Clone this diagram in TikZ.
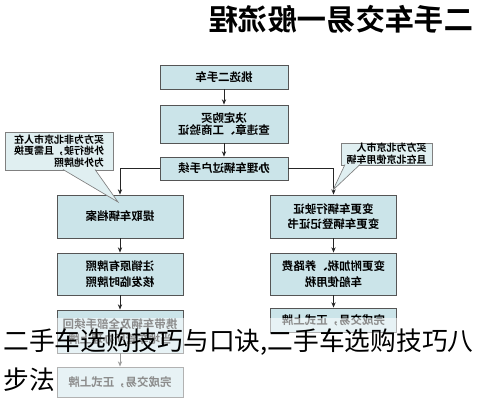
\documentclass[tikz,border=0pt]{standalone}
\usepackage{fontspec}
\newfontfamily\cjk{Noto Sans CJK SC}[BoldFont={Noto Sans CJK SC Bold}]
\usetikzlibrary{arrows.meta}
\definecolor{boxblue}{RGB}{203,228,233}
\definecolor{noteblue}{RGB}{224,239,241}
\definecolor{edgegray}{RGB}{85,85,85}

\begin{document}
\begin{tikzpicture}[x=0.75pt,y=-0.75pt,
    box/.style={draw=edgegray,fill=boxblue,line width=0.6pt,inner sep=0pt,
      align=center,font=\cjk\bfseries\fontsize{8.6}{11.5}\selectfont},
    note/.style={draw=gray,fill=noteblue,line width=0.5pt,inner sep=0pt,
      align=left,font=\cjk\bfseries\fontsize{7.5}{8.8}\selectfont},
    link/.style={draw=black!85,line width=0.6pt,-{Stealth[length=4pt,width=3.2pt]}}]
  \useasboundingbox (0,0) rectangle (478,400);
  % the whole chart is printed mirrored
  \begin{scope}[shift={(478,0)},xscale=-1,every node/.append style={transform shape}]
    \node[font=\cjk\bfseries\fontsize{22}{24}\selectfont] (title) at (137,19) {二手车交易一般流程};
    % middle column
    \node[box,minimum width=96pt,minimum height=18pt] (pick) at (254,77) {挑选二手车};
    \node[box,minimum width=96pt,minimum height=28.5pt,
      font=\cjk\bfseries\fontsize{8.6}{9.5}\selectfont] (decide) at (254,124)
      {决定购买\\查违章、工商验证};
    \node[box,minimum width=96pt,minimum height=17.25pt] (transfer) at (254,168.5) {办理车辆过户手续};
    % left column
    \node[box,minimum width=95pt,minimum height=32.25pt] (chgLic) at (144.5,216.5)
      {变更车辆行驶证\\变更车辆登记证书};
    \node[box,minimum width=95pt,minimum height=31.5pt] (chgTax) at (144.5,274)
      {变更附加税、养路费\\车船使用税};
    \node[box,minimum width=95pt,minimum height=18pt] (doneL) at (144.5,320) {完成交易，正式上牌};
    % right column
    \node[box,minimum width=94.5pt,minimum height=32.25pt] (archive) at (358,216.5) {提取车辆档案};
    \node[box,minimum width=94.5pt,minimum height=31.5pt] (cancel) at (358,274)
      {注销原有牌照\\核发临时牌照};
    \node[box,minimum width=94.5pt,minimum height=32.25pt] (back) at (358,331.5)
      {携带车辆及全部手续回\\当地车管所办理上牌};
    \node[box,minimum width=94.5pt,minimum height=22.5pt] (doneR) at (358,382) {完成交易，正式上牌};
    % connectors
    \draw[link] (pick) -- (decide);
    \draw[link] (decide) -- (transfer);
    \draw[link] (transfer.west) -| (chgLic.north);
    \draw[link] (transfer.east) -| (archive.north);
    \draw[link] (chgLic) -- (chgTax);
    \draw[link] (chgTax) -- (doneL);
    \draw[link] (archive) -- (cancel);
    \draw[link] (cancel) -- (back);
    \draw[link] (back) -- (doneR);
    % callouts
    \node[note,minimum width=68pt,minimum height=16.5pt] (noteIn) at (91.5,154)
      {买方为北京市人\\且在北京使用车辆};
    \coordinate (inA) at (133,164.5);
    \coordinate (inB) at (118,164.5);
    \coordinate (inTip) at (145,190);
    \fill[noteblue] (inA) -- (inTip) -- (inB) -- cycle;
    \draw[gray,line width=0.5pt] (inA) -- (inTip) -- (inB);
    \node[note,minimum width=81pt,minimum height=28.5pt] (noteOut) at (419,151)
      {买方为非北京市人在\\外地行驶，且需更换\\为外地牌照};
    \coordinate (outA) at (415,169.5);
    \coordinate (outB) at (383,169.5);
    \coordinate (outTip) at (360,202);
    \fill[noteblue] (outA) -- (outTip) -- (outB) -- cycle;
    \draw[gray,line width=0.5pt] (outA) -- (outTip) -- (outB);
  \end{scope}
  % caption laid over the picture
  \fill[white,opacity=0.55] (0,318) rectangle (478,400);
  \node[anchor=west,inner sep=0pt,font=\cjk\fontsize{19.3}{20}\selectfont] (cap1) at (3,342)
    {二手车选购技巧与口诀,二手车选购技巧八};
  \node[anchor=west,inner sep=0pt,font=\cjk\fontsize{19.3}{20}\selectfont] (cap2) at (3,380) {步法};
\end{tikzpicture}
\end{document}
